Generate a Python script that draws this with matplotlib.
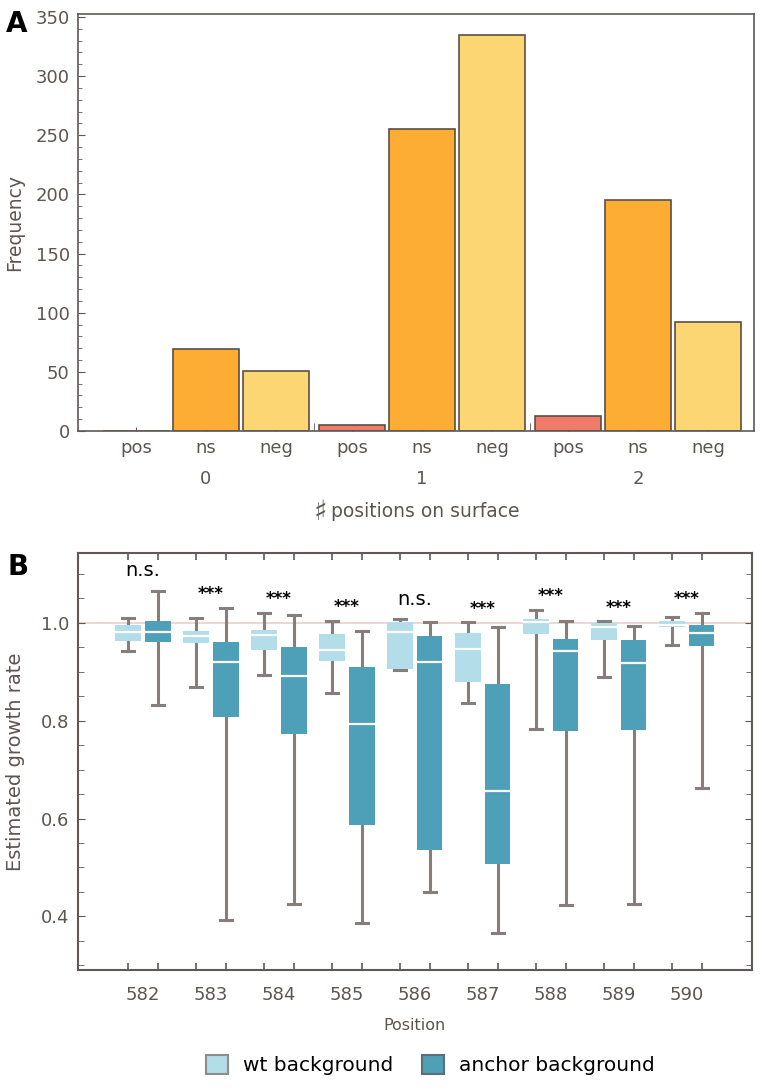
import numpy as np
import matplotlib.pyplot as plt
from matplotlib.patches import Patch
from matplotlib.ticker import MultipleLocator, FixedLocator
import matplotlib.transforms as mtransforms

# Panel A: counts per class and number of surface positions
groups = ['0', '1', '2']
classes = ['pos', 'ns', 'neg']
freq = [[0, 69, 51],
        [5, 255, 335],
        [13, 195, 92]]

# Panel B: box statistics per position
positions = [582, 583, 584, 585, 586, 587, 588, 589, 590]
wt_hi = [1.009, 1.009, 1.020, 1.004, 1.007, 1.001, 1.027, 1.003, 1.013]
wt_q3 = [0.995, 0.984, 0.986, 0.977, 1.002, 0.979, 1.008, 0.999, 1.004]
wt_med = [0.982, 0.974, 0.975, 0.944, 0.982, 0.947, 1.001, 0.992, 0.995]
wt_q1 = [0.962, 0.959, 0.945, 0.923, 0.906, 0.880, 0.977, 0.964, 0.992]
wt_lo = [0.942, 0.869, 0.893, 0.856, 0.904, 0.836, 0.784, 0.890, 0.955]
anc_hi = [1.066, 1.031, 1.017, 0.984, 1.001, 0.992, 1.004, 0.993, 1.021]
anc_q3 = [1.004, 0.960, 0.951, 0.909, 0.974, 0.876, 0.968, 0.965, 0.995]
anc_med = [0.981, 0.921, 0.892, 0.794, 0.920, 0.656, 0.942, 0.917, 0.980]
anc_q1 = [0.960, 0.807, 0.773, 0.587, 0.535, 0.507, 0.780, 0.781, 0.952]
anc_lo = [0.832, 0.393, 0.425, 0.387, 0.450, 0.367, 0.423, 0.425, 0.662]
sig = ['n.s.', '***', '***', '***', 'n.s.', '***', '***', '***', '***']

bar_colors = {'pos': '#f07b68', 'ns': '#fdad33', 'neg': '#fdd674'}
wt_color = '#b3dde9'
anc_color = '#4e9fb8'
whisk_color = '#877d7a'
txt_color = '#5c5552'
spine_color = '#5f5855'

fig = plt.figure(figsize=(7.6, 10.9), dpi=100)

# ---------------- Panel A ----------------
axA = fig.add_axes([0.1026, 0.6046, 0.8895, 0.383])
gap = 0.086
xs, labels = [], []
for g, row in enumerate(freq):
    for i, c in enumerate(classes):
        x = g * (3 + gap) + i
        axA.bar(x, row[i], width=0.93, color=bar_colors[c],
                edgecolor='#5c4f45', linewidth=1.2, zorder=2)
        xs.append(x)
        labels.append(c)

axA.set_xlim(-0.829, 8.829)
axA.set_ylim(0, 352.9)
axA.set_xticks(xs)
axA.set_xticklabels(labels)
bounds = [g * (3 + gap) - 0.5 - gap / 2 for g in range(1, len(groups))]
axA.xaxis.set_minor_locator(FixedLocator(bounds))
axA.yaxis.set_major_locator(MultipleLocator(50))
axA.yaxis.set_minor_locator(MultipleLocator(10))
axA.tick_params(axis='x', which='major', direction='in', length=3,
                color=spine_color, labelsize=13, labelcolor=txt_color, pad=6)
axA.tick_params(axis='x', which='minor', direction='in', length=6,
                color=spine_color)
axA.tick_params(axis='y', which='major', direction='in', length=5,
                color=spine_color, labelsize=13, labelcolor=txt_color, pad=6)
axA.tick_params(axis='y', which='minor', direction='in', length=3,
                color=spine_color)
trA = mtransforms.blended_transform_factory(axA.transData, axA.transAxes)
for g, name in enumerate(groups):
    axA.text(g * (3 + gap) + 1, -0.115, name, transform=trA, ha='center',
             va='center', fontsize=13, color=txt_color)
xl = axA.text(0.514, -0.194, 'positions on surface', transform=axA.transAxes,
              ha='center', va='center', fontsize=13.5, color=txt_color)
axA.annotate('\u266f', xy=(0, 0.5), xycoords=xl, xytext=(-3, 0),
             textcoords='offset points', ha='right', va='center',
             fontsize=20, color=txt_color)
axA.set_ylabel('Frequency', fontsize=13.5, color=txt_color)
axA.yaxis.set_label_coords(-0.079, 0.5)
for s in axA.spines.values():
    s.set_color(spine_color)
    s.set_linewidth(1.2)

# ---------------- Panel B ----------------
axB = fig.add_axes([0.1026, 0.1097, 0.8868, 0.3828])
off, bw = 0.22, 0.37
axB.axhline(1.0, color='#e6d4d2', linewidth=1.3, zorder=1)


def make_stats(lo, q1, med, q3, hi):
    return [dict(whislo=a, q1=b, med=c, q3=d, whishi=e, fliers=[])
            for a, b, c, d, e in zip(lo, q1, med, q3, hi)]


for stats, shift, col in [(make_stats(wt_lo, wt_q1, wt_med, wt_q3, wt_hi), -off, wt_color),
                          (make_stats(anc_lo, anc_q1, anc_med, anc_q3, anc_hi), off, anc_color)]:
    axB.bxp(stats, positions=[p + shift for p in positions], widths=bw,
            capwidths=0.18, patch_artist=True, showfliers=False,
            manage_ticks=False,
            boxprops=dict(facecolor=col, edgecolor='none', zorder=3),
            medianprops=dict(color='white', linewidth=1.6, zorder=4),
            whiskerprops=dict(color=whisk_color, linewidth=2.2, zorder=2),
            capprops=dict(color=whisk_color, linewidth=2.2, zorder=2))

for p, s, a, b in zip(positions, sig, wt_hi, anc_hi):
    top = max(a, b)
    if s == 'n.s.':
        axB.text(p, top + 0.03, s, ha='center', va='baseline', fontsize=14,
                 color='black')
    else:
        axB.text(p, top + 0.018, s, ha='center', va='baseline', fontsize=12,
                 fontweight='bold', color='black')

axB.set_xlim(581.044, 590.956)
axB.set_ylim(0.2896, 1.1425)
box_x = sorted([p - off for p in positions] + [p + off for p in positions])
axB.set_xticks(box_x)
axB.set_xticklabels([])
axB.xaxis.set_minor_locator(FixedLocator(positions))
axB.set_xticklabels([str(p) for p in positions], minor=True)
axB.yaxis.set_major_locator(FixedLocator([0.4, 0.6, 0.8, 1.0]))
axB.yaxis.set_major_formatter(plt.FormatStrFormatter('%.1f'))
axB.yaxis.set_minor_locator(MultipleLocator(0.05))
axB.tick_params(axis='x', which='major', direction='in', length=5,
                top=True, color=spine_color, width=1.2)
axB.tick_params(axis='x', which='minor', length=0, labelsize=13,
                labelcolor=txt_color, pad=11)
axB.tick_params(axis='y', which='major', direction='in', length=5,
                right=True, color=spine_color, labelsize=13,
                labelcolor=txt_color, pad=6)
axB.tick_params(axis='y', which='minor', direction='in', length=4,
                right=True, color=spine_color)
axB.set_xlabel('Position', fontsize=11.5, color=txt_color, labelpad=10)
axB.set_ylabel('Estimated growth rate', fontsize=14, color=txt_color)
axB.yaxis.set_label_coords(-0.079, 0.5)
for s in axB.spines.values():
    s.set_color(spine_color)
    s.set_linewidth(1.5)

handles = [Patch(facecolor=wt_color, edgecolor='#8c8c8c', linewidth=1.5,
                 label='wt background'),
           Patch(facecolor=anc_color, edgecolor='#5f6e74', linewidth=1.5,
                 label='anchor background')]
fig.legend(handles=handles, loc='center', bbox_to_anchor=(0.566, 0.0229),
           ncol=2, frameon=False, fontsize=14.5, handlelength=1.1,
           handleheight=1.05, handletextpad=0.75, columnspacing=1.4)

fig.text(6 / 760, 1 - 32 / 1090, 'A', fontsize=20, fontweight='bold',
         ha='left', va='baseline')
fig.text(7 / 760, 1 - 575 / 1090, 'B', fontsize=20, fontweight='bold',
         ha='left', va='baseline')

fig.savefig('out.png', dpi=100)
